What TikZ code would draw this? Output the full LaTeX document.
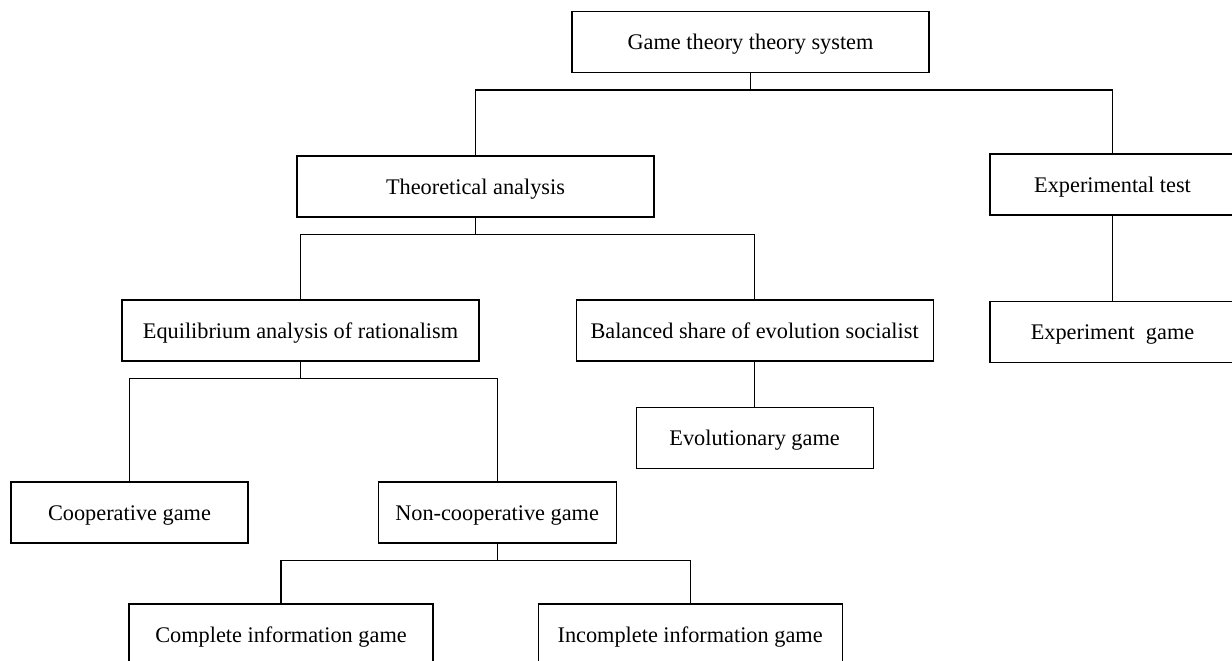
\documentclass[tikz,border=0pt]{standalone}
\usepackage{fontspec}
\setmainfont{Liberation Serif}
\usepackage{tikz}
\usetikzlibrary{positioning}

\begin{document}
\begin{tikzpicture}[
  x=1pt, y=1pt,
  box/.style={draw, line width=1.1pt, align=center, inner sep=0pt,
    minimum height=61pt, text height=15pt, text depth=0pt,
    font=\fontsize{22.3}{26}\selectfont},
  link/.style={line width=1.1pt},
  elbow/.style={link, to path={-- ++(0,-17) -| (\tikztotarget)}}
]
\useasboundingbox (0,0) rectangle (1232,-661);
% top levels
\node[box, minimum width=357pt] (root) at (750.5,-42) {Game theory theory system};
\node[box, minimum width=357pt] (theo) at (475.5,-186.5) {Theoretical analysis};
\node[box, minimum width=245pt] (exptest) at (1112.5,-184.5) {Experimental test};
\node[box, minimum width=357pt] (equil) at (300.5,-330.5) {Equilibrium analysis of rationalism};
\node[box, minimum width=357pt, right=96pt of equil] (balance) {Balanced share of evolution socialist};
\node[box, minimum width=245pt, below=85pt of exptest] (expgame) {Experiment\ \ game};
\node[box, minimum width=237pt, below=45pt of balance] (evogame) {Evolutionary game};
% lower levels
\node[box, minimum width=237pt] (coop) at (129.5,-512.5) {Cooperative game};
\node[box, minimum width=238pt, right=129pt of coop] (noncoop) {Non-cooperative game};
\node[box, minimum width=304pt] (complete) at (281,-634.5) {Complete information game};
\node[box, minimum width=304pt, right=104pt of complete] (incomplete) {Incomplete information game};
% connectors
\draw[elbow] (root.south) to (theo.north);
\draw[elbow] (root.south) to (exptest.north);
\draw[elbow] (theo.south) to (equil.north);
\draw[elbow] (theo.south) to (balance.north);
\draw[elbow] (equil.south) to (coop.north);
\draw[elbow] (equil.south) to (noncoop.north);
\draw[elbow] (noncoop.south) to (complete.north);
\draw[elbow] (noncoop.south) to (incomplete.north);
\draw[link] (exptest) -- (expgame);
\draw[link] (balance) -- (evogame);
\end{tikzpicture}
\end{document}
